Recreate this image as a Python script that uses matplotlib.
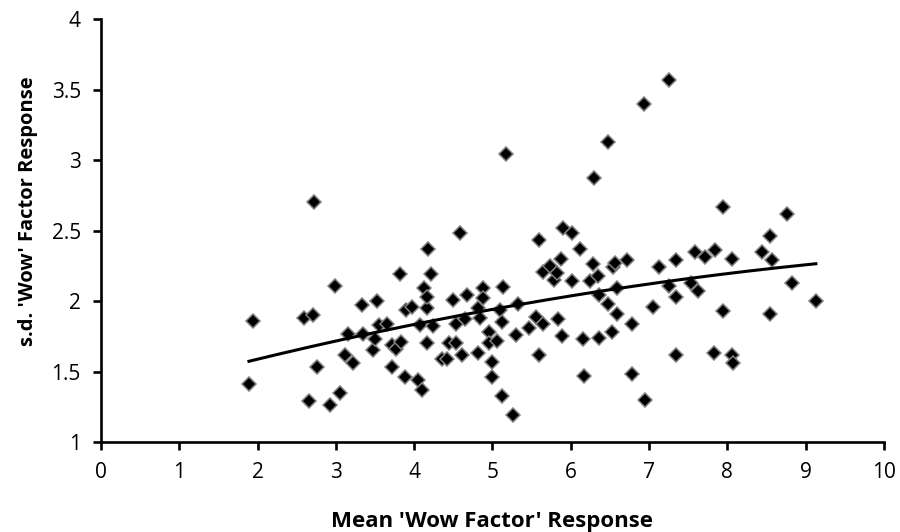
import numpy as np
import matplotlib
matplotlib.use("Agg")
import matplotlib.pyplot as plt

# mean 'wow factor' response per item and its standard deviation
mean_wow = [1.89, 1.94, 2.59, 2.66, 2.71, 2.72, 2.76, 2.93, 2.99, 3.05,
            3.12, 3.16, 3.22, 3.33, 3.34, 3.47, 3.50, 3.52, 3.55, 3.65,
            3.72, 3.72, 3.77, 3.82, 3.83, 3.88, 3.90, 3.97, 4.05, 4.07,
            4.10, 4.12, 4.16, 4.17, 4.17, 4.18, 4.22, 4.24, 4.35, 4.42,
            4.44, 4.50, 4.53, 4.53, 4.58, 4.61, 4.65, 4.67, 4.82, 4.82,
            4.84, 4.88, 4.88, 4.95, 4.95, 4.99, 5.00, 5.06, 5.10, 5.12,
            5.12, 5.13, 5.17, 5.26, 5.30, 5.33, 5.47, 5.56, 5.59, 5.59,
            5.65, 5.65, 5.74, 5.78, 5.82, 5.84, 5.88, 5.89, 5.90, 6.01,
            6.01, 6.12, 6.15, 6.17, 6.24, 6.29, 6.30, 6.35, 6.36, 6.36,
            6.47, 6.48, 6.53, 6.54, 6.56, 6.59, 6.59, 6.72, 6.78, 6.78,
            6.94, 6.95, 7.05, 7.13, 7.25, 7.25, 7.34, 7.35, 7.35, 7.54,
            7.59, 7.63, 7.71, 7.83, 7.84, 7.94, 7.95, 8.06, 8.06, 8.07,
            8.44, 8.54, 8.54, 8.57, 8.76, 8.83, 9.13]
sd_wow = [1.41, 1.86, 1.88, 1.29, 1.90, 2.70, 1.53, 1.26, 2.11, 1.35,
          1.62, 1.77, 1.56, 1.97, 1.77, 1.65, 1.73, 2.00, 1.83, 1.84,
          1.53, 1.69, 1.66, 2.19, 1.71, 1.46, 1.94, 1.96, 1.44, 1.83,
          1.37, 2.09, 1.95, 2.03, 1.70, 2.37, 2.19, 1.82, 1.59, 1.59,
          1.70, 2.01, 1.84, 1.70, 2.48, 1.62, 1.87, 2.04, 1.95, 1.63,
          1.88, 2.09, 2.02, 1.78, 1.70, 1.46, 1.57, 1.72, 1.94, 1.85,
          1.33, 2.10, 3.04, 1.19, 1.76, 1.98, 1.81, 1.89, 2.43, 1.62,
          1.84, 2.21, 2.25, 2.15, 2.20, 1.87, 2.30, 1.75, 2.52, 2.48,
          2.14, 2.37, 1.73, 1.47, 2.14, 2.26, 2.87, 2.18, 1.74, 2.04,
          3.13, 1.98, 1.78, 2.24, 2.27, 2.09, 1.91, 2.29, 1.84, 1.48,
          3.40, 1.30, 1.96, 2.24, 3.57, 2.11, 2.03, 2.29, 1.62, 2.13,
          2.35, 2.07, 2.31, 1.63, 2.36, 2.67, 1.93, 2.30, 1.62, 1.56,
          2.35, 2.46, 1.91, 2.29, 2.62, 2.13, 2.00]

x_ticks = [0, 1, 2, 3, 4, 5, 6, 7, 8, 9, 10]
y_ticks = [1, 1.5, 2, 2.5, 3, 3.5, 4]
x_label = "Mean 'Wow Factor' Response"
y_label = "s.d. 'Wow' Factor Response"

plt.rcParams['font.family'] = ['Open Sans', 'DejaVu Sans']

fig = plt.figure(figsize=(9, 5.32), dpi=100)
ax = fig.add_axes([0.1122, 0.169, 0.870, 0.795])

ax.plot(mean_wow, sd_wow, linestyle='none', marker='D', markersize=7,
        markerfacecolor='black', markeredgecolor='#808080', markeredgewidth=1.1,
        zorder=3)

# 2nd order polynomial trendline, like excel
coef = np.polyfit(mean_wow, sd_wow, 2)
xs = np.linspace(min(mean_wow), max(mean_wow), 200)
ax.plot(xs, np.polyval(coef, xs), color='black', linewidth=2.2, zorder=4)

ax.set_xlim(0, 10)
ax.set_ylim(1, 4)
ax.set_xticks(x_ticks)
ax.set_yticks(y_ticks)
ax.set_yticklabels([f"{t:g}" for t in y_ticks])

for s in ['top', 'right']:
    ax.spines[s].set_visible(False)
for s in ['left', 'bottom']:
    ax.spines[s].set_linewidth(1.9)
ax.tick_params(direction='out', length=5.5, width=1.9, labelsize=15, pad=9)

ax.set_xlabel(x_label, fontsize=16, fontweight='bold', labelpad=20)
ax.set_ylabel(y_label, fontsize=14.5, fontweight='bold', labelpad=10)
ax.yaxis.label.set_y(0.546)

fig.savefig("out.png", dpi=100)
